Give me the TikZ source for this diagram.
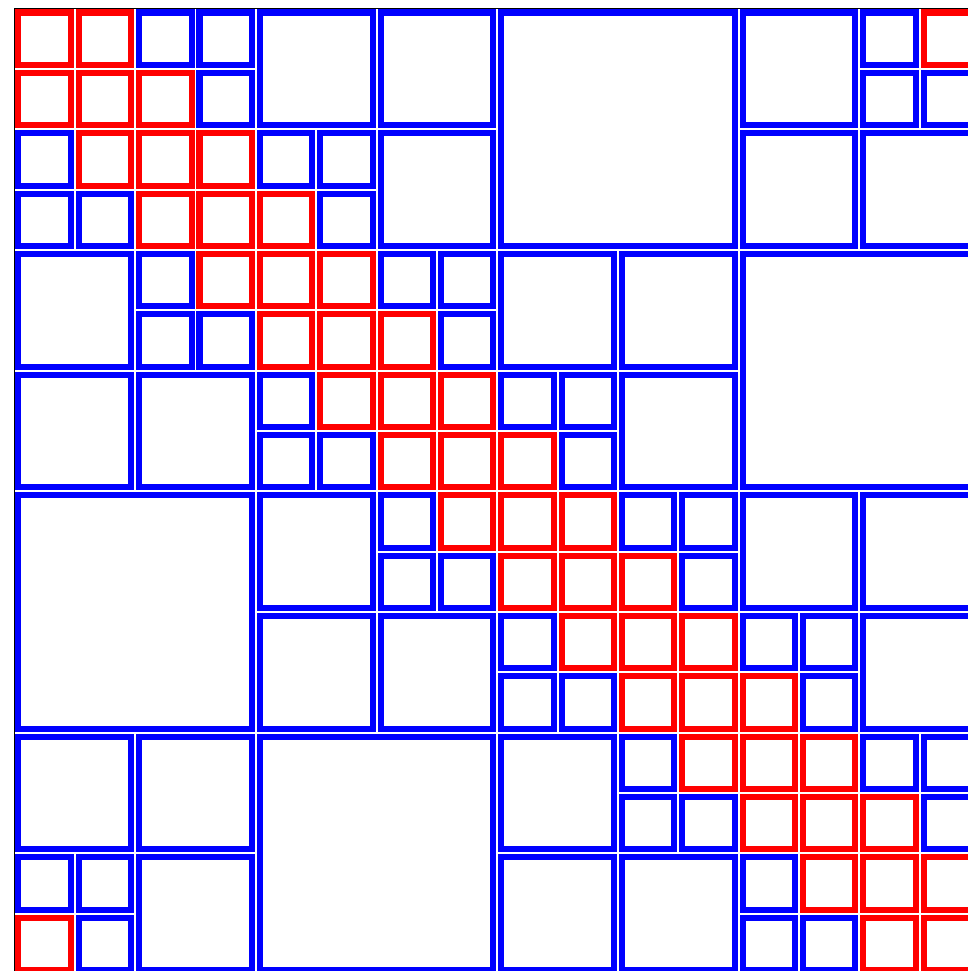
\documentclass[tikz,border=0pt]{standalone}
\usepackage{xcolor}
\usepackage{tikz}
\tikzstyle{near} = [draw=red, line width=0.1cm]
\tikzstyle{far} = [draw=blue, line width=0.1cm]
\tikzstyle{axis} = [draw=black, line width=0.5pt]

\begin{document}
\begin{tikzpicture}[x=1cm, y=-1cm]
    \useasboundingbox (-0.240,-0.141) rectangle (15.800,15.950);
    \clip (-0.240,-0.141) rectangle (15.800,15.950);
    % near field blocks
    \foreach \r in {0,...,15} {
        \foreach \d in {-1,0,1} {
            \pgfmathtruncatemacro{\c}{mod(\r+\d+16,16)}
            \draw [near] (\c+0.066,\r+0.066) rectangle ++(0.868,0.868);
        }
    }
    % small far field blocks
    \foreach \c/\r in {2/0,3/0,14/0, 3/1,14/1,15/1, 0/2,4/2,5/2, 0/3,1/3,5/3,
                       2/4,6/4,7/4, 2/5,3/5,7/5, 4/6,8/6,9/6, 4/7,5/7,9/7,
                       6/8,10/8,11/8, 6/9,7/9,11/9, 8/10,12/10,13/10, 8/11,9/11,13/11,
                       10/12,14/12,15/12, 10/13,11/13,15/13, 0/14,1/14,12/14, 1/15,12/15,13/15}
        \draw [far] (\c+0.066,\r+0.066) rectangle ++(0.868,0.868);
    % 2x2 blocks
    \foreach \c/\r in {4/0,6/0,12/0, 6/2,12/2,14/2, 0/4,8/4,10/4, 0/6,2/6,10/6,
                       4/8,12/8,14/8, 4/10,6/10,14/10, 0/12,2/12,8/12, 2/14,8/14,10/14}
        \draw [far] (\c+0.066,\r+0.066) rectangle ++(1.868,1.868);
    % 4x4 blocks
    \foreach \c/\r in {8/0,12/4,0/8,4/12}
        \draw [far] (\c+0.066,\r+0.066) rectangle ++(3.868,3.868);
    % frame
    \draw [axis] (0,15.950) -- (0,0) -- (15.800,0);
\end{tikzpicture}
\end{document}
